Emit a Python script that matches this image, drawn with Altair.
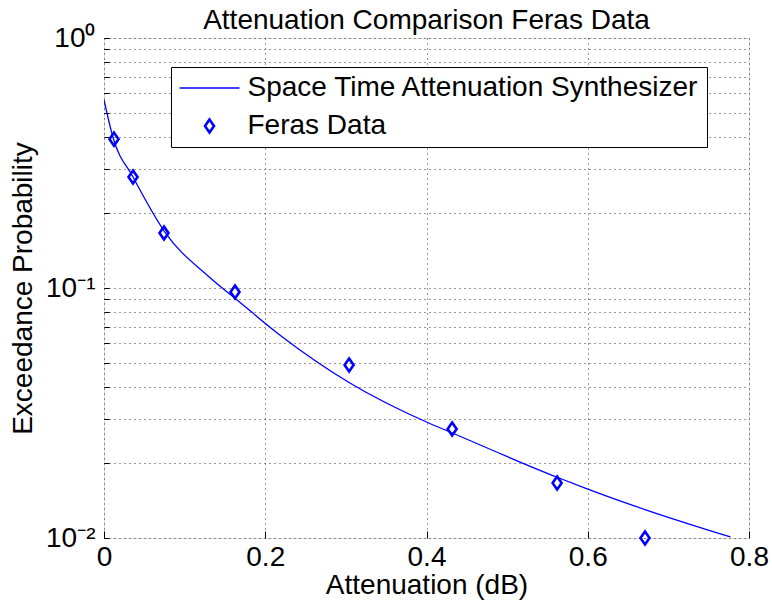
import altair as alt
import pandas as pd

# ---- data ----
curve_x = [0.0, 0.0112, 0.036, 0.0757, 0.1315, 0.1625, 0.218, 0.305, 0.40, 0.432, 0.562, 0.60, 0.671, 0.777]
curve_y = [0.565, 0.40, 0.278, 0.167, 0.110, 0.091, 0.0649, 0.0417, 0.0291, 0.0263, 0.0175, 0.0157, 0.0130, 0.0101]

feras_x = [0.0124, 0.036, 0.0744, 0.1625, 0.304, 0.4318, 0.562, 0.671]
feras_y = [0.394, 0.278, 0.166, 0.0964, 0.0492, 0.0273, 0.0166, 0.0100]

series_names = ["Space Time Attenuation Synthesizer", "Feras Data"]

x_ticks = [0, 0.2, 0.4, 0.6, 0.8]
y_major = [1, 0.1, 0.01]
y_major_labels = ["10\u2070", "10\u207b\u00b9", "10\u207b\u00b2"]
y_grid = [m * d for d in [0.01, 0.1] for m in range(1, 10)] + [1]

title_text = "Attenuation Comparison Feras Data"
x_title = "Attenuation (dB)"
y_title = "Exceedance Probability"

curve_df = pd.DataFrame({"x": curve_x, "y": curve_y, "series": series_names[0]})
feras_df = pd.DataFrame({"x": feras_x, "y": feras_y, "series": series_names[1]})

FONT = "Liberation Sans"
BLUE = "#0000ff"
W, H = 645, 500

label_expr = "".join(
    f"abs(datum.value-{v})<1e-9?'{lab}':" for v, lab in zip(y_major, y_major_labels)
) + "''"

xscale = alt.Scale(domain=[0, 0.8], nice=False, zero=False)
yscale = alt.Scale(type="log", domain=[0.01, 1], nice=False)

line = alt.Chart(curve_df).mark_line(color=BLUE, strokeWidth=1.3, interpolate="monotone", clip=True).encode(
    x=alt.X("x:Q", scale=xscale,
            axis=alt.Axis(values=x_ticks, format=".1~f", title=x_title, grid=True,
                          ticks=False, tickSize=0, domain=False, labelPadding=5,
                          labelFontSize=28, labelFont=FONT, labelColor="black",
                          titleFontSize=28, titleFont=FONT, titleFontWeight="normal",
                          titleColor="black", titlePadding=0,
                          gridColor="black", gridDash=[1, 4], gridOpacity=0.8, gridWidth=1,
                          labelFlush=False, labelOverlap=False)),
    y=alt.Y("y:Q", scale=yscale,
            axis=alt.Axis(values=y_grid, labelExpr=label_expr, title=y_title, grid=True,
                          ticks=False, tickSize=0, domain=False, labelPadding=9,
                          labelFontSize=28, labelFont=FONT, labelColor="black",
                          titleFontSize=28, titleFont=FONT, titleFontWeight="normal",
                          titleColor="black", titlePadding=8,
                          gridColor="black", gridDash=[1, 4], gridOpacity=0.8, gridWidth=1,
                          labelOverlap=False, labelFlush=False)),
)

diamond = "M0,-1.3L0.9,0L0,1.3L-0.9,0Z"
dash = "M-6,0L6,0"
legend = alt.Legend(
    title=None, orient="none", legendX=67, legendY=29,
    labelFontSize=28, labelFont=FONT, labelColor="black", labelLimit=0,
    padding=7, rowPadding=10, symbolOffset=17.5, labelOffset=24,
    strokeColor="black", fillColor="white", cornerRadius=0,
    symbolStrokeColor=BLUE, symbolFillColor="transparent", symbolSize=100,
)

points = alt.Chart(feras_df).mark_point(filled=False, color=BLUE, size=100, opacity=1).encode(
    x=alt.X("x:Q", scale=xscale,
            axis=alt.Axis(orient="top", offset=-H, values=x_ticks, labels=False, title=None,
                          grid=False, domain=False, ticks=True, tickSize=7,
                          tickColor="black", tickWidth=1)),
    y=alt.Y("y:Q", scale=yscale,
            axis=alt.Axis(orient="right", offset=-W, values=y_grid, labels=False, title=None,
                          grid=False, domain=False, ticks=True, tickSize=5,
                          tickColor="black", tickWidth=1)),
    shape=alt.Shape("series:N", scale=alt.Scale(domain=series_names, range=[dash, diamond]),
                    legend=legend),
    strokeWidth=alt.StrokeWidth("series:N", scale=alt.Scale(domain=series_names, range=[1.3, 2.6]),
                                legend=legend),
)

chart = alt.layer(line, points).resolve_axis(x="independent", y="independent").properties(
    width=W, height=H,
    title=alt.TitleParams(title_text, fontSize=28, font=FONT, fontWeight="normal", color="black",
                          anchor="middle", baseline="bottom", offset=8, dy=47, frame="group"),
    autosize=alt.AutoSizeParams(type="none"),
    padding={"left": 104, "top": 38, "right": 23, "bottom": 65},
).configure_view(stroke="black", strokeWidth=1.5).configure(background="white")

chart.save("out.html", embed_options={"renderer": "svg", "actions": False})
